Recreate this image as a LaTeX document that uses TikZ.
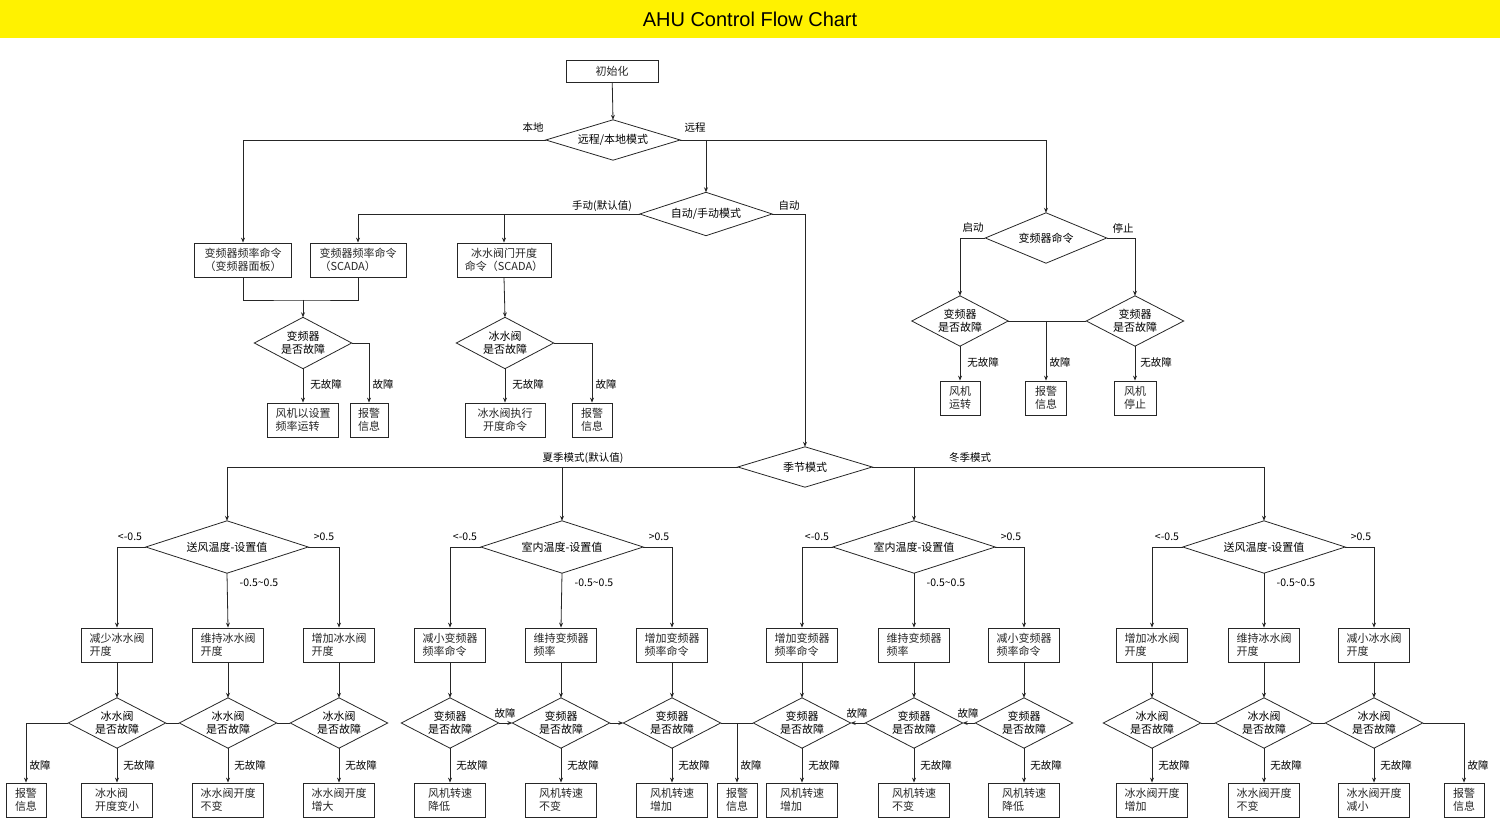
\documentclass[tikz,border=0pt]{standalone}
\usepackage{fontspec}
\setmainfont{Noto Sans CJK SC}
\newfontfamily\titlefont{Liberation Sans}
\usetikzlibrary{arrows.meta}
\begin{document}
\begin{tikzpicture}[x=1pt,y=-1pt,
  every node/.style={font=\fontsize{11}{12.5}\selectfont},
  ln/.style={line width=0.8pt,black!85},
  arr/.style={ln,-{Stealth[length=5pt,width=4pt]}},
  bx/.style={draw,line width=0.8pt,black!85,inner sep=2pt,align=left,minimum height=34pt},
  dm/.style={inner sep=0pt,align=center,minimum width=#1,minimum height=50pt},
  dm/.default=97pt,
  lb/.style={inner sep=1pt,font=\fontsize{10.5}{12}\selectfont}]
\useasboundingbox (0,0) rectangle (1500,826);
\fill[yellow!95!orange!60!white] (0,0) rectangle (1500,38);
\fill[yellow] (0,0) rectangle (1500,38);
\node (title) at (750,19) {\titlefont\fontsize{20}{24}\selectfont AHU Control Flow Chart};

% top part
\node[bx,minimum width=92pt,minimum height=22pt,align=center] (init) at (612,71) {初始化};
\node[dm=134pt,minimum height=40pt] (mode) at (613,140) {远程/本地模式};
\node[dm=132pt,minimum height=43pt] (am) at (706,214) {自动/手动模式};
\node[bx,minimum width=97pt] (b1) at (243,260) {变频器频率命令\\（变频器面板）};
\node[bx,minimum width=96pt] (b2) at (358,260) {变频器频率命令\\（SCADA）};
\node[bx,minimum width=94pt,align=center] (b3) at (504,260) {冰水阀门开度\\命令（SCADA）};
\node[dm=97pt,minimum height=51pt] (d1) at (303,343) {变频器\\是否故障};
\node[dm=97pt,minimum height=51pt] (d2) at (505,343) {冰水阀\\是否故障};
\node[bx,minimum width=71pt] (f1) at (303,420) {风机以设置\\频率运转};
\node[bx,minimum width=38pt,align=center] (al1) at (369,420) {报警\\信息};
\node[bx,minimum width=80pt,align=center] (f2) at (505,420) {冰水阀执行\\开度命令};
\node[bx,minimum width=40pt,align=center] (al2) at (592,420) {报警\\信息};
\node[dm=121pt] (vc) at (1046,238) {变频器命令};
\node[dm=96pt] (v1) at (960,321) {变频器\\是否故障};
\node[dm=97pt] (v2) at (1135,321) {变频器\\是否故障};
\node[bx,minimum width=40pt,align=center] (vr) at (960,398) {风机\\运转};
\node[bx,minimum width=41pt,align=center] (va) at (1046,398) {报警\\信息};
\node[bx,minimum width=42pt,align=center] (vs) at (1135,398) {风机\\停止};
\node[dm=134pt,minimum height=40pt] (sea) at (805,467) {季节模式};

\node[lb] (l1) at (533,128) {本地};
\node[lb] (l2) at (695,128) {远程};
\node[lb] (l3) at (602,206) {手动(默认值)};
\node[lb] (l4) at (789,206) {自动};
\node[lb] (l5) at (326,384) {无故障};
\node[lb] (l6) at (383,384) {故障};
\node[lb] (l7) at (528,384) {无故障};
\node[lb] (l8) at (606,384) {故障};
\node[lb] (l9) at (973,228) {启动};
\node[lb] (l10) at (1123,228) {停止};
\node[lb] (l11) at (983,362) {无故障};
\node[lb] (l12) at (1060,362) {故障};
\node[lb] (l13) at (1156,362) {无故障};
\node[lb] (l14) at (583,458) {夏季模式(默认值)};
\node[lb] (l15) at (970,458) {冬季模式};

\draw[arr] (init) -- (mode.north);
\draw[arr] (mode.west) -| (b1.north);
\draw[arr] (mode.east) -| (vc.north);
\draw[arr] (am.north |- mode.east) -- (am.north);
\draw[arr] (am.west) -| (b2.north);
\draw[arr] (b3.north |- am.west) -- (b3.north);
\draw[arr] (am.east) -| (sea.north);
\coordinate (m1) at (303,300);
\draw[ln] (b1.south) |- (m1) -| (b2.south);
\draw[arr] (m1) -- (d1.north);
\draw[arr] (d1.south) -- (f1.north);
\draw[arr] (d1.east) -| (al1.north);
\draw[arr] (b3.south) -- (d2.north);
\draw[arr] (d2.south) -- (f2.north);
\draw[arr] (d2.east) -| (al2.north);
\draw[arr] (vc.west) -| (v1.north);
\draw[arr] (vc.east) -| (v2.north);
\draw[ln] (v1.east) -- (v2.west);
\draw[arr] (va.north |- v1.east) -- (va.north);
\draw[arr] (v1.south) -- (vr.north);
\draw[arr] (v2.south) -- (vs.north);

% season groups
\foreach \g/\cx/\t in {1/227/送风温度-设置值,2/562/室内温度-设置值,3/914/室内温度-设置值,4/1264/送风温度-设置值}{
  \node[dm=162pt,minimum height=52pt] (t\g) at (\cx,547) {\t};
  \node[lb] (lt\g) at (\cx-97,537) {<-0.5};
  \node[lb] (gt\g) at (\cx+97,537) {>0.5};
  \node[lb] (mt\g) at (\cx+32,583) {-0.5\textasciitilde0.5};
}
\draw[arr] (sea.west) -| (t1.north);
\draw[arr] (t2.north |- sea.west) -- (t2.north);
\draw[arr] (sea.east) -| (t4.north);
\draw[arr] (t3.north |- sea.east) -- (t3.north);

\foreach \g/\xa/\xb/\xc/\ta/\tb/\tc/\qq/\ra/\rb/\rc in {
 1/117/228/339/{减少冰水阀\\开度}/{维持冰水阀\\开度}/{增加冰水阀\\开度}/{冰水阀\\是否故障}/{冰水阀\\开度变小}/{冰水阀开度\\不变}/{冰水阀开度\\增大},
 2/450/561/672/{减小变频器\\频率命令}/{维持变频器\\频率}/{增加变频器\\频率命令}/{变频器\\是否故障}/{风机转速\\降低}/{风机转速\\不变}/{风机转速\\增加},
 3/802/914/1024/{增加变频器\\频率命令}/{维持变频器\\频率}/{减小变频器\\频率命令}/{变频器\\是否故障}/{风机转速\\增加}/{风机转速\\不变}/{风机转速\\降低},
 4/1152/1264/1374/{增加冰水阀\\开度}/{维持冰水阀\\开度}/{减小冰水阀\\开度}/{冰水阀\\是否故障}/{冰水阀开度\\增加}/{冰水阀开度\\不变}/{冰水阀开度\\减小}}{
  \node[bx,minimum width=71pt] (b\g1) at (\xa,645) {\ta};
  \node[bx,minimum width=71pt] (b\g2) at (\xb,645) {\tb};
  \node[bx,minimum width=71pt] (b\g3) at (\xc,645) {\tc};
  \node[dm=97pt] (q\g1) at (\xa,723) {\qq};
  \node[dm=97pt] (q\g2) at (\xb,723) {\qq};
  \node[dm=97pt] (q\g3) at (\xc,723) {\qq};
  \node[bx,minimum width=71pt] (r\g1) at (\xa,800) {\ra};
  \node[bx,minimum width=71pt] (r\g2) at (\xb,800) {\rb};
  \node[bx,minimum width=71pt] (r\g3) at (\xc,800) {\rc};
  \draw[arr] (t\g.west) -| (b\g1.north);
  \draw[arr] (t\g.south) -- (b\g2.north);
  \draw[arr] (t\g.east) -| (b\g3.north);
  \foreach \k in {1,2,3}{
    \draw[arr] (b\g\k.south) -- (q\g\k.north);
    \draw[arr] (q\g\k.south) -- (r\g\k.north);
    \node[lb] at ([xshift=22pt,yshift=-17pt]q\g\k.south) {无故障};
    \draw[ln] (q\g\k.north) -- (q\g\k.east) -- (q\g\k.south) -- (q\g\k.west) -- cycle;
  }
}
% other diamonds outlines
\foreach \n in {mode,am,d1,d2,vc,v1,v2,sea,t1,t2,t3,t4}{
  \draw[ln] (\n.north) -- (\n.east) -- (\n.south) -- (\n.west) -- cycle;
}
% alarm boxes of bottom row
\node[bx,minimum width=40pt,align=center] (a1) at (26,800) {报警\\信息};
\node[bx,minimum width=40pt,align=center] (a2) at (737,800) {报警\\信息};
\node[bx,minimum width=40pt,align=center] (a4) at (1464,800) {报警\\信息};
\node[lb] (la1) at (40,765) {故障};
\node[lb] (la2) at (751,765) {故障};
\node[lb] (la4) at (1478,765) {故障};
\node[lb] (lf1) at (505,713) {故障};
\node[lb] (lf2) at (857,713) {故障};
\node[lb] (lf3) at (968,713) {故障};
% group 1
\draw[arr] (q11.west) -| (a1.north);
\draw[ln] (q11.east) -- (q12.west);
\draw[ln] (q12.east) -- (q13.west);
% group 2/3
\draw[arr] (q21.east) -- (q22.west);
\draw[arr] (q22.east) -- (q23.west);
\draw[ln] (q23.east) -- (q31.west);
\draw[arr] (a2.north |- q23.east) -- (a2.north);
\draw[arr] (q32.west) -- (q31.east);
\draw[arr] (q33.west) -- (q32.east);
% group 4
\draw[ln] (q41.east) -- (q42.west);
\draw[ln] (q42.east) -- (q43.west);
\draw[arr] (q43.east) -| (a4.north);
\end{tikzpicture}
\end{document}
